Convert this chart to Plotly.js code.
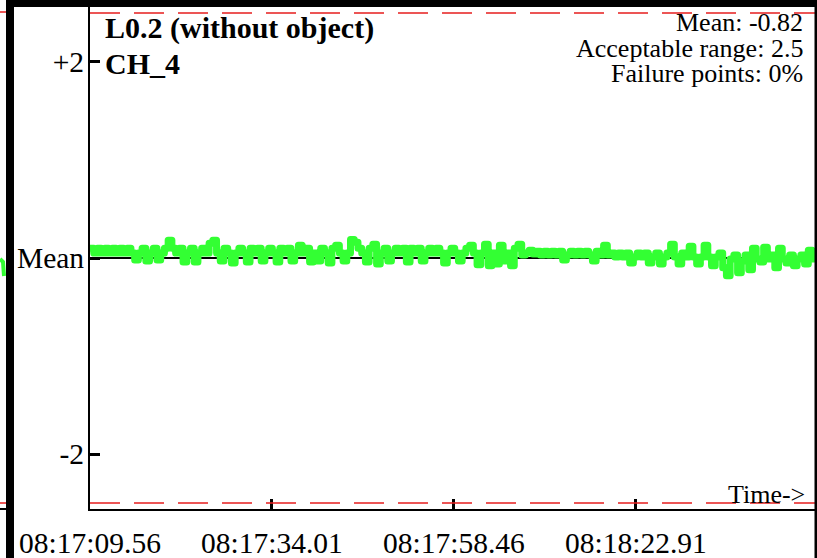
<!DOCTYPE html>
<html>
<head>
<meta charset="utf-8">
<script src="https://cdn.plot.ly/plotly-3.0.1.min.js"></script>
<style>html,body{margin:0;padding:0;background:#fff;}#chart{width:817px;height:558px;}</style>
</head>
<body>
<div id="chart"></div>
<script>
// ---- data (values relative to the mean, sampled every 0.5 s from 08:17:09.56) ----
const sampleStep = 0.5;
const deviation = [
  0.10,0.05,0.10,0.05,0.10,0.05,0.10,0.05,0.10,0.05,
  0.10,0.05,-0.02,0.05,0.10,-0.03,0.05,0.10,-0.02,0.05,
  0.10,0.18,0.10,0.05,0.10,-0.04,0.05,0.10,-0.04,0.05,
  0.10,0.05,0.15,0.18,0.05,-0.03,0.10,0.05,-0.05,0.05,
  0.10,0.05,-0.04,0.10,0.05,0.10,-0.03,0.05,0.10,0.05,
  -0.04,0.10,0.05,0.10,-0.03,0.05,0.13,0.05,0.10,-0.04,
  0.05,-0.03,0.10,0.05,-0.05,0.10,0.13,0.05,-0.03,0.05,
  0.19,0.16,0.10,0.05,-0.04,0.10,0.14,-0.06,0.05,0.10,
  -0.03,0.05,0.10,0.05,0.10,-0.04,0.10,0.05,0.10,-0.03,
  0.05,0.10,0.05,0.10,0.05,-0.05,0.05,0.10,0.05,-0.03,
  0.05,0.10,0.13,0.05,-0.07,0.05,0.14,-0.08,0.05,-0.06,
  0.13,-0.03,0.05,-0.08,0.10,0.14,0.03,0.05,0.08,0.04,
  0.07,0.03,0.07,0.03,0.07,0.03,0.07,-0.02,0.03,0.07,
  0.03,0.07,0.03,0.07,0.03,-0.03,0.07,0.03,0.13,0.03,
  0.05,0.01,0.05,0.01,0.05,-0.05,0.01,0.05,0.01,0.05,
  -0.05,0.01,0.05,-0.06,0.01,0.05,0.14,0.01,-0.06,0.05,
  0.01,0.12,0.01,-0.06,0.01,0.13,0.01,-0.08,0.01,0.05,
  -0.10,-0.18,-0.01,0.03,-0.15,-0.03,0.03,-0.12,0.10,-0.01,
  -0.04,0.11,-0.01,0.03,-0.10,0.10,-0.01,-0.05,0.03,-0.08,
  -0.01,0.03,-0.06,0.08,-0.01,0.00
];
const xTickVals = [0, 24.45, 48.90, 73.35];
const xTickText = ["08:17:09.56", "08:17:34.01", "08:17:58.46", "08:18:22.91"];
const yTickVals = [-2, 0, 2];
const yTickText = ["-2", "Mean", "+2"];
const acceptableRange = 2.5;
const xMax = 97.4;
const titleLines = ["L0.2 (without object)", "CH_4"];
const statLines = ["Mean: -0.82", "Acceptable range: 2.5", "Failure points: 0%"];

// ---- build ----
const times = deviation.map((_, i) => i * sampleStep);
const W = 817, H = 558, L = 90, R = 2, T = 7, B = 49;
const pw = W - L - R, ph = H - T - B;
const px = v => (v - L) / pw;
const py = v => (H - B - v) / ph;
const font = "Liberation Serif, Times New Roman, serif";

const traces = [
  {x: [0, xMax], y: [0, 0], mode: "lines", line: {color: "#000", width: 2}, hoverinfo: "skip", showlegend: false},
  {x: times, y: deviation, mode: "lines", line: {color: "rgb(51,255,51)", width: 7, shape: "hv"}, showlegend: false}
];

const shapes = [
  // acceptable range limits
  {type: "line", xref: "x", yref: "y", x0: 0, x1: xMax, y0: acceptableRange, y1: acceptableRange,
   line: {color: "rgb(230,30,30)", width: 1.5, dash: "30px,14px"}},
  {type: "line", xref: "x", yref: "y", x0: 0, x1: xMax, y0: -acceptableRange, y1: -acceptableRange,
   line: {color: "rgb(230,30,30)", width: 1.5, dash: "30px,14px"}},
  // frame pieces
  {type: "rect", xref: "paper", yref: "paper", x0: px(6), x1: px(817), y0: py(7), y1: py(0), fillcolor: "#000", line: {width: 0}},
  {type: "rect", xref: "paper", yref: "paper", x0: px(6), x1: px(14), y0: py(558), y1: py(0), fillcolor: "#000", line: {width: 0}},
  {type: "rect", xref: "paper", yref: "paper", x0: px(814.5), x1: px(817), y0: py(558), y1: py(0), fillcolor: "#000", line: {width: 0}},
  // neighbour panel remnants on far left
  {type: "line", xref: "paper", yref: "paper", x0: px(0), x1: px(6), y0: py(12), y1: py(12), line: {color: "rgb(230,30,30)", width: 1.5}},
  {type: "line", xref: "paper", yref: "paper", x0: px(0), x1: px(6), y0: py(503), y1: py(503), line: {color: "rgb(230,30,30)", width: 1.5}},
  {type: "line", xref: "paper", yref: "paper", x0: px(0), x1: px(6), y0: py(509), y1: py(509), line: {color: "#000", width: 2}},
  {type: "path", xref: "paper", yref: "paper",
   path: `M ${px(0)},${py(259)} L ${px(3)},${py(262)} L ${px(4)},${py(276)}`, line: {color: "rgb(51,255,51)", width: 4}}
];

const annotations = [
  {text: "<b>" + titleLines[0] + "</b>", xref: "paper", yref: "paper", x: px(103), y: py(28), xanchor: "left", yanchor: "middle", showarrow: false, font: {family: font, size: 30, color: "#000"}},
  {text: "<b>" + titleLines[1] + "</b>", xref: "paper", yref: "paper", x: px(103), y: py(63), xanchor: "left", yanchor: "middle", showarrow: false, font: {family: font, size: 30, color: "#000"}},
  {text: statLines[0], xref: "paper", yref: "paper", x: px(805), y: py(23), xanchor: "right", yanchor: "middle", showarrow: false, font: {family: font, size: 26, color: "#000"}},
  {text: statLines[1], xref: "paper", yref: "paper", x: px(805), y: py(48), xanchor: "right", yanchor: "middle", showarrow: false, font: {family: font, size: 26, color: "#000"}},
  {text: statLines[2], xref: "paper", yref: "paper", x: px(805), y: py(73), xanchor: "right", yanchor: "middle", showarrow: false, font: {family: font, size: 26, color: "#000"}},
  {text: "Time->", xref: "paper", yref: "paper", x: px(807), y: py(494), xanchor: "right", yanchor: "middle", showarrow: false, font: {family: font, size: 26, color: "#000"}}
];

const layout = {
  width: W, height: H,
  margin: {l: L, r: R, t: T, b: B, pad: 0},
  paper_bgcolor: "#fff", plot_bgcolor: "#fff",
  showlegend: false,
  font: {family: font, size: 29, color: "#000"},
  xaxis: {range: [0, xMax], tickmode: "array", tickvals: xTickVals, ticktext: xTickText,
          ticks: "inside", ticklen: 10, tickwidth: 3, tickcolor: "#000",
          showline: true, linecolor: "#000", linewidth: 2, showgrid: false, zeroline: false,
          tickfont: {family: font, size: 29.5, color: "#000"}, ticklabelstandoff: 7},
  yaxis: {range: [-2.561, 2.561], tickmode: "array", tickvals: yTickVals, ticktext: yTickText,
          ticks: "inside", ticklen: 10, tickwidth: 3, tickcolor: "#000",
          showline: true, linecolor: "#000", linewidth: 2, showgrid: false, zeroline: false,
          tickfont: {family: font, size: 29.5, color: "#000"}, ticklabelstandoff: -2},
  shapes: shapes,
  annotations: annotations
};

Plotly.newPlot("chart", traces, layout, {displayModeBar: false, staticPlot: true}).then(gd => {
  gd.querySelectorAll(".scatterlayer .js-line").forEach(p => {
    p.style.strokeLinejoin = "round";
    p.style.strokeLinecap = "round";
  });
});
</script>
</body>
</html>
